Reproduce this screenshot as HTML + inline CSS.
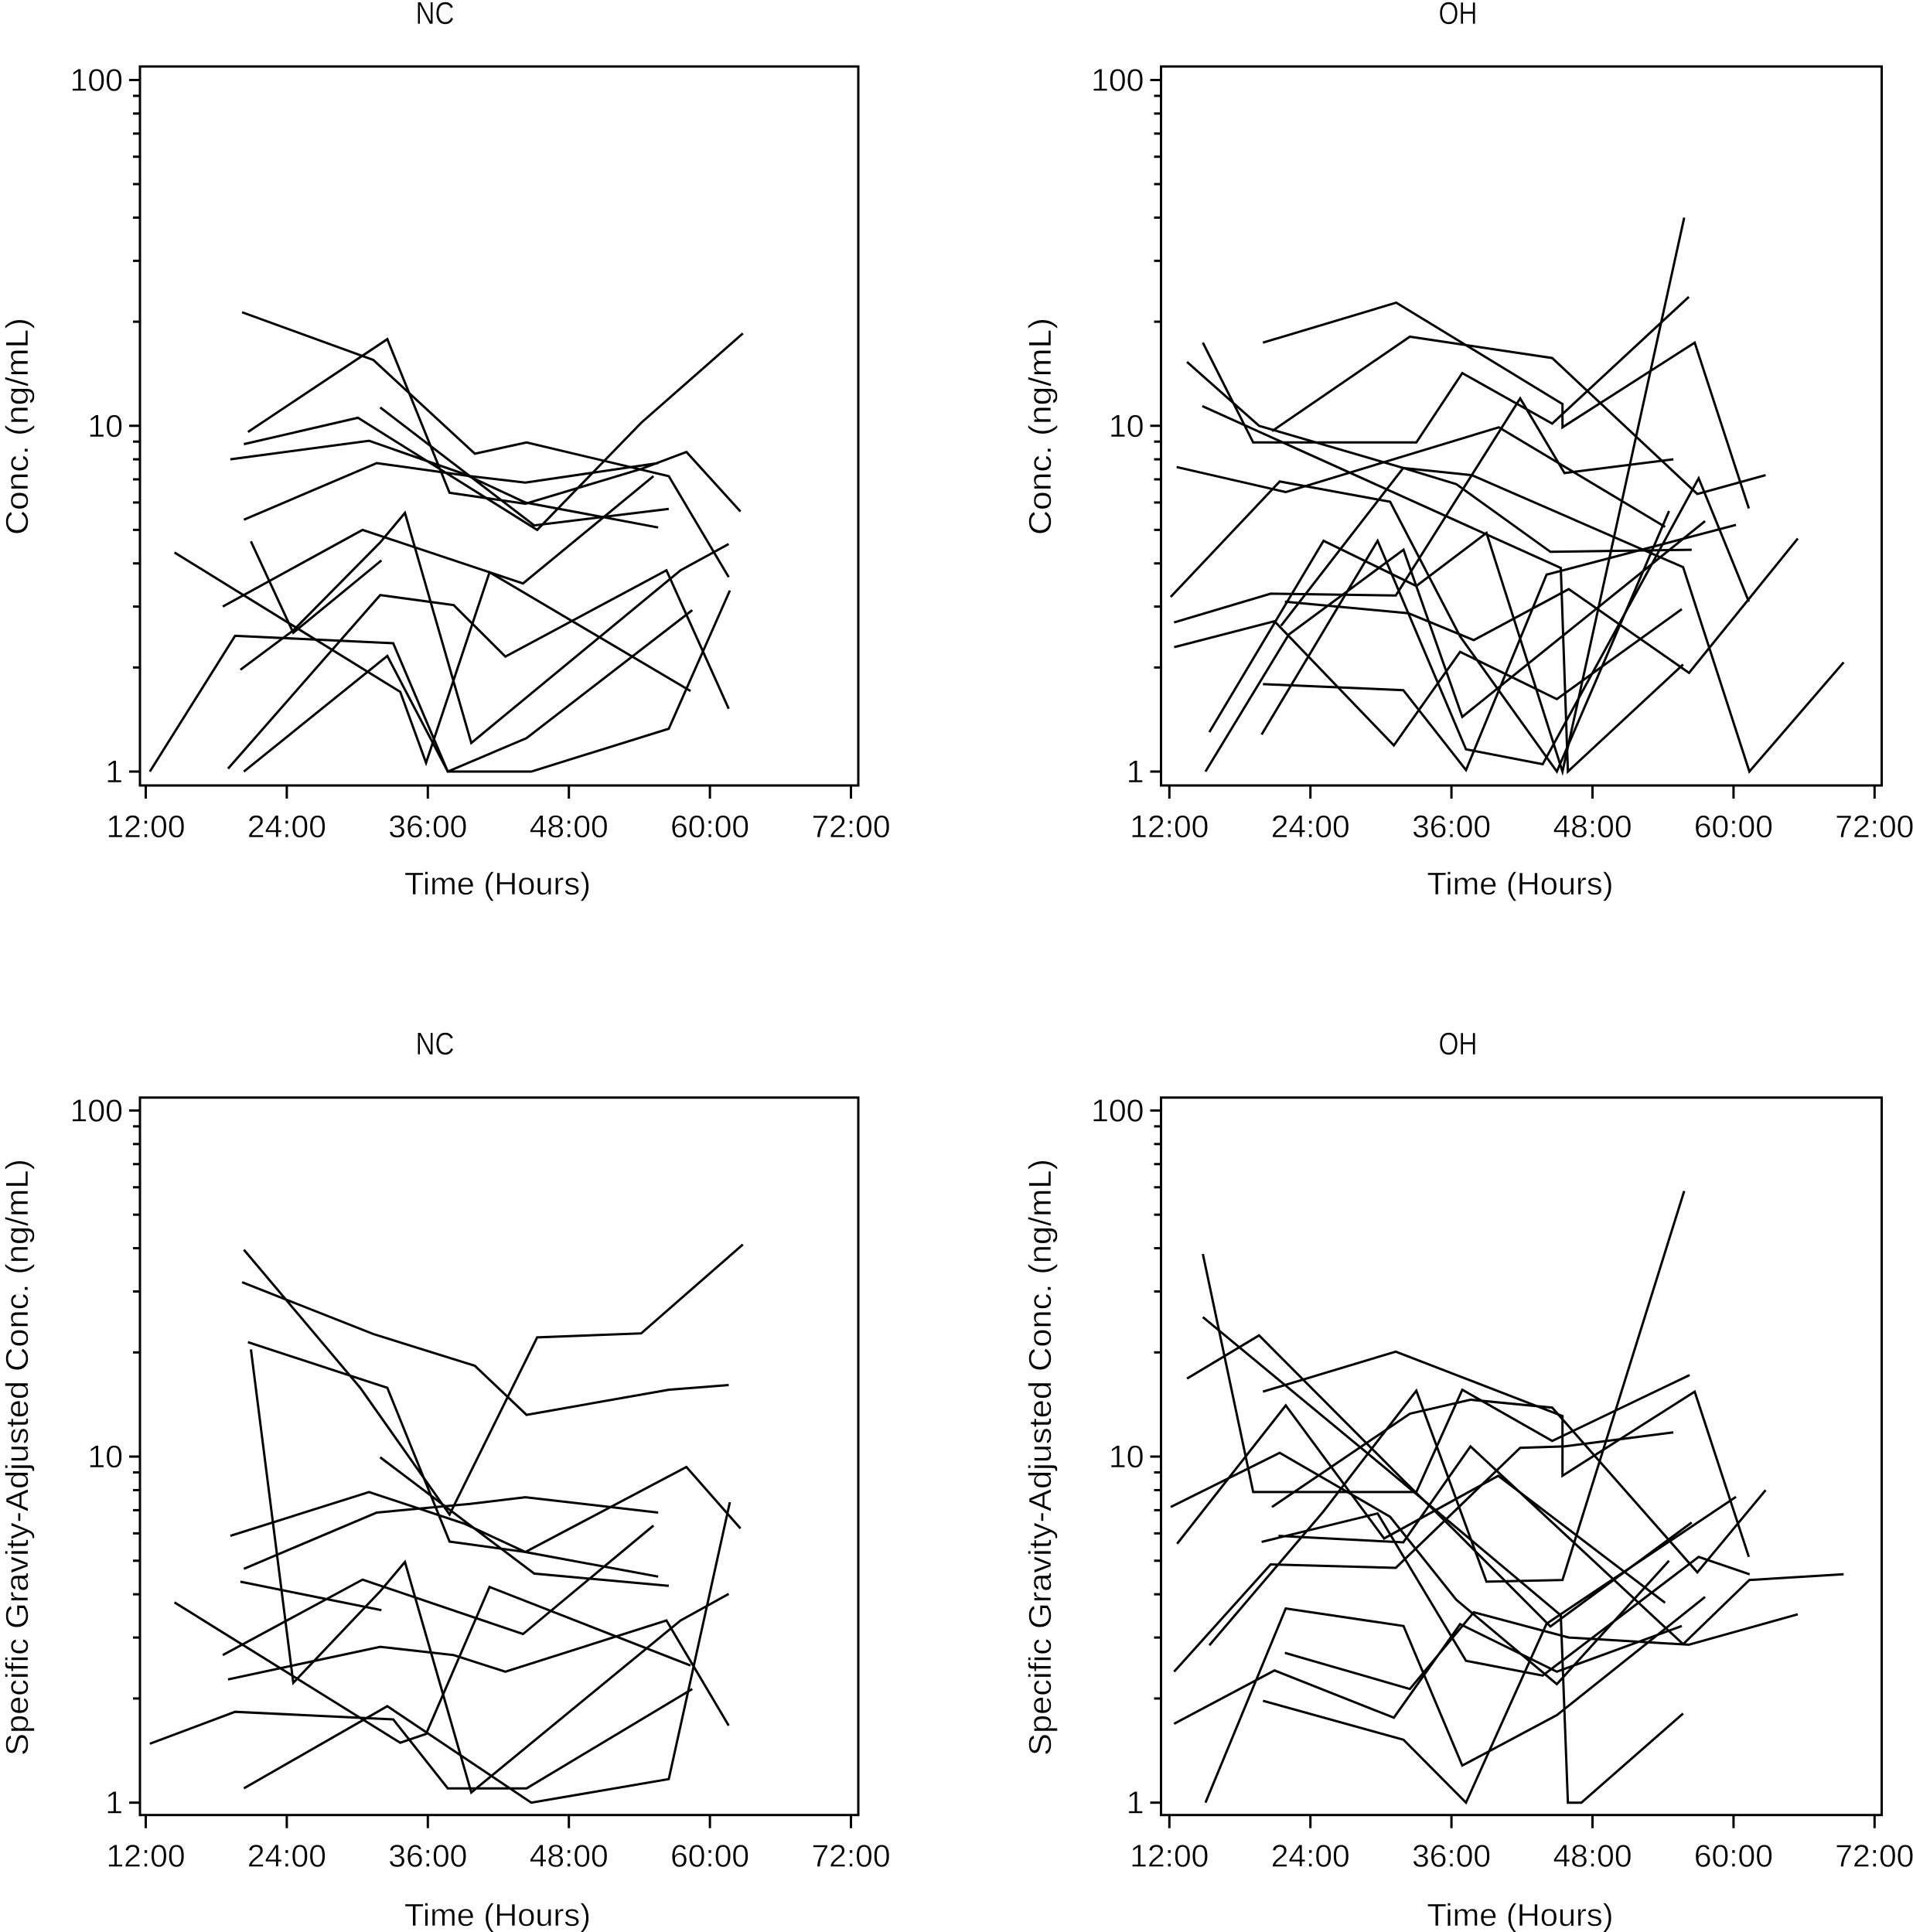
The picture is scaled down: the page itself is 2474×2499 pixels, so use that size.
<!DOCTYPE html>
<html lang="en">
<head>
<meta charset="utf-8">
<title>Concentration over time</title>
<style>
html,body{margin:0;padding:0;background:#fff;}
svg{display:block;}
text{font-family:"Liberation Sans",sans-serif;font-size:41px;fill:#000;stroke:#fff;stroke-width:0.5px;}
.frame{fill:none;stroke:#000;stroke-width:3;}
.tick{stroke:#000;stroke-width:3;fill:none;}
.subject{fill:none;stroke:#000;stroke-width:3;stroke-linejoin:miter;stroke-miterlimit:10;stroke-linecap:butt;}
</style>
</head>
<body>
<svg id="figure" xmlns="http://www.w3.org/2000/svg" width="2474" height="2499" viewBox="0 0 2474 2499">
  <rect x="0" y="0" width="2474" height="2499" fill="#fff"/>

  <g id="panel-nc-raw">
    <text x="562.5" y="31" text-anchor="middle" textLength="50" lengthAdjust="spacingAndGlyphs">NC</text>
    <text x="643.5" y="1157" text-anchor="middle" textLength="241" lengthAdjust="spacingAndGlyphs">Time (Hours)</text>
    <text transform="translate(36 551.5) rotate(-90)" text-anchor="middle" textLength="281" lengthAdjust="spacingAndGlyphs">Conc. (ng/mL)</text>
  </g>

  <g id="panel-oh-raw">
    <text x="1885.5" y="31" text-anchor="middle" textLength="50" lengthAdjust="spacingAndGlyphs">OH</text>
    <text x="1966" y="1157" text-anchor="middle" textLength="241" lengthAdjust="spacingAndGlyphs">Time (Hours)</text>
    <text transform="translate(1359 551.5) rotate(-90)" text-anchor="middle" textLength="281" lengthAdjust="spacingAndGlyphs">Conc. (ng/mL)</text>
  </g>

  <g id="panel-nc-adj">
    <text x="562.5" y="1364" text-anchor="middle" textLength="50" lengthAdjust="spacingAndGlyphs">NC</text>
    <text x="643.5" y="2491" text-anchor="middle" textLength="241" lengthAdjust="spacingAndGlyphs">Time (Hours)</text>
    <text transform="translate(36 1885) rotate(-90)" text-anchor="middle" textLength="772" lengthAdjust="spacingAndGlyphs">Specific Gravity-Adjusted Conc. (ng/mL)</text>
  </g>

  <g id="panel-oh-adj">
    <text x="1885.5" y="1364" text-anchor="middle" textLength="50" lengthAdjust="spacingAndGlyphs">OH</text>
    <text x="1966" y="2491" text-anchor="middle" textLength="241" lengthAdjust="spacingAndGlyphs">Time (Hours)</text>
    <text transform="translate(1359 1885) rotate(-90)" text-anchor="middle" textLength="772" lengthAdjust="spacingAndGlyphs">Specific Gravity-Adjusted Conc. (ng/mL)</text>
  </g>
</svg>

<script>
const xTickHours = [12, 24, 36, 48, 60, 72];
const xTickLabels = ["12:00", "24:00", "36:00", "48:00", "60:00", "72:00"];
const yMajorTicks = [1, 10, 100];
const yMajorLabels = ["1", "10", "100"];
const yMinorTicks = [2, 3, 4, 5, 6, 7, 8, 9, 20, 30, 40, 50, 60, 70, 80, 90];

const ncRawHours = [
  [20.2, 31.36, 40, 44.4, 56.5, 61.6],
  [20.7, 32.55, 37.85, 44.3, 54.15, 58, 62.6],
  [20.35, 30.05, 45.3, 54.15, 62.8],
  [19.2, 31, 39.1, 44.3, 55.6],
  [20.35, 31.65, 39.6, 44.3, 55.6],
  [31.95, 45.05, 56.5],
  [18.55, 30.45, 44.1, 55.2],
  [14.45, 33.65, 35.85, 41.25, 58.35],
  [20.95, 24.55, 32.05],
  [20.05, 24.55, 31.95, 34.05, 39.7, 57.5, 61.6],
  [19, 31.95, 38.2, 42.6, 56.3, 61.6],
  [20.35, 32.55, 37.7, 44.4, 58.5],
  [12.35, 19.6, 33.05, 37.7, 44.8, 56.5, 61.7]
];
const ncRawConc = [
  [21.3, 15.5, 8.3, 8.95, 7.15, 3.65],
  [9.6, 17.8, 6.4, 5.95, 7.5, 8.4, 5.65],
  [8.85, 10.55, 5, 10.2, 18.5],
  [8, 9.05, 7.25, 6, 5.08],
  [5.35, 7.8, 7.15, 6.85, 7.8],
  [11.3, 5.15, 5.75],
  [3, 5, 3.5, 7.15],
  [4.3, 1.7, 1.06, 3.77, 1.71],
  [4.63, 2.52, 4.08],
  [1.97, 2.56, 4.6, 5.6, 1.21, 3.82, 4.55],
  [1.02, 3.24, 3.03, 2.15, 3.82, 1.52],
  [1, 2.16, 1, 1.25, 2.93],
  [1, 2.47, 2.35, 1, 1, 1.33, 3.34]
];

const ohRawHours = [
  [19.96, 31.3, 45.45, 45.45, 56.7, 61.3],
  [20.73, 32.46, 44.57, 56.92, 62.73],
  [21.5, 31.9, 37.73, 55.71, 61.35, 69.37],
  [13.5, 19.63, 31.9, 36.41, 44.42, 56.44],
  [14.8, 30.49, 45.3, 45.91, 55.71],
  [14.85, 19.13, 33.01, 36.92, 44.57, 56.2],
  [12.62, 21.9, 40.03, 54.18],
  [12.11, 21.39, 30.78, 36.74, 44.97, 54.51],
  [12.4, 20.62, 31.26, 41.85, 45.62, 54.88],
  [12.4, 20.95, 31.1, 36.74, 44.97, 55.6],
  [15.4, 25.12, 33.01, 38.98, 45.45, 55.8],
  [19.85, 29.72, 37.24, 43.76, 57.03, 61.3],
  [21.83, 32.35, 37.9, 45.98, 56.22, 65.47],
  [19.96, 31.9, 37.24, 44.09, 60.21],
  [15.07, 22.16, 31.92, 36.92, 57.58]
];
const ohRawConc = [
  [17.4, 22.7, 11.56, 9.9, 17.4, 5.77],
  [9.65, 18.1, 15.7, 6.35, 7.2],
  [2.64, 7.55, 7.2, 3.9, 1, 2.07],
  [15.3, 10, 7.55, 6.78, 4.32, 4.38],
  [11.4, 6.55, 3.88, 1, 2.04],
  [17.4, 8.95, 8.95, 14.2, 10.15, 23.6],
  [7.6, 6.43, 9.9, 5.1],
  [3.2, 6.9, 6.03, 2.46, 1, 5.67],
  [2.7, 3.27, 3.23, 12, 7.3, 8],
  [2.29, 2.72, 1.19, 2.22, 1.62, 2.95],
  [1.3, 4.65, 3.44, 4.9, 1, 40],
  [1.28, 4.65, 1.16, 1.05, 7.05, 3.1],
  [3.1, 2.87, 2.4, 3.37, 1.93, 4.72],
  [1.79, 1.72, 1.01, 3.71, 5.17],
  [1, 2.49, 4.38, 1.44, 5.3]
];

const ncAdjHours = [
  [20.2, 31.36, 40, 44.4, 56.5, 61.6],
  [20.35, 30.25, 37.85, 45.3, 54.15, 62.8],
  [20.7, 32.55, 37.85, 44.3, 58, 62.6],
  [20.95, 24.55, 31.95, 34.05, 39.7, 57.5, 61.6],
  [20.05, 32.05],
  [19.2, 31, 39.1, 44.3, 55.6],
  [20.35, 31.65, 39.6, 44.3, 55.6],
  [31.95, 45.05, 56.5],
  [18.55, 30.45, 44.1, 55.2],
  [14.45, 33.65, 35.85, 41.25, 58.35],
  [19, 31.95, 38.2, 42.6, 56.3, 61.6],
  [20.35, 32.55, 44.8, 56.5, 61.7],
  [12.35, 19.6, 33.05, 37.7, 44.4, 58.5]
];
const ncAdjConc = [
  [31.9, 22.6, 18.3, 13.2, 15.6, 16.1],
  [39.6, 15.8, 6.8, 22.1, 22.7, 41],
  [21.4, 15.8, 5.68, 5.3, 9.33, 6.2],
  [20.4, 2.22, 4.08, 4.96, 1.07, 3.36, 4.01],
  [4.35, 3.6],
  [5.9, 7.9, 6.4, 5.3, 4.5],
  [4.74, 6.89, 7.3, 7.63, 6.89],
  [9.95, 4.59, 4.23],
  [2.67, 4.41, 3.07, 6.32],
  [3.79, 1.49, 1.58, 4.2, 2.49],
  [2.27, 2.82, 2.67, 2.39, 3.36, 1.67],
  [1.1, 1.9, 1, 1.17, 7.38],
  [1.48, 1.83, 1.74, 1.1, 1.1, 2.13]
];

const ohAdjHours = [
  [19.96, 31.26, 45.45, 45.45, 56.7, 61.3],
  [20.73, 32.46, 37.62, 44.57, 56.92, 62.73],
  [21.28, 31.9, 37.62, 55.71, 61.35, 69.37],
  [13.5, 19.63, 31.9, 36.41, 44.42, 56.44],
  [14.85, 30.49, 45.3, 45.91, 47.05, 55.71],
  [14.85, 19.13, 33.01, 36.92, 44.57, 56.26],
  [12.66, 21.9, 30.27, 39.98, 54.18],
  [12.11, 21.39, 30.78, 36.4, 44.97, 54.51],
  [12.4, 20.62, 31.26, 41.85, 45.62, 54.88],
  [12.4, 20.95, 31.1, 36.74, 44.97, 55.6],
  [15.4, 25.12, 33.01, 38.98, 45.45, 55.8],
  [19.85, 29.72, 37.24, 43.76, 57.03, 61.37],
  [21.83, 32.46, 37.9, 45.98, 56.2, 65.47],
  [19.96, 31.92, 37.24, 44.09, 60.21],
  [15.07, 21.9, 31.92, 36.92, 44.97, 57.58]
];
const ohAdjConc = [
  [15.4, 20.1, 13.1, 8.8, 15.4, 5.13],
  [7.15, 13.3, 14.6, 13.85, 4.63, 8],
  [5.9, 5.65, 10.7, 2.87, 4.4, 4.57],
  [16.8, 22.4, 8.55, 6.05, 3.23, 6.45],
  [25.3, 9.2, 3.48, 1, 1, 1.81],
  [38.5, 7.9, 7.9, 15.6, 11.1, 17.2],
  [5.6, 14.05, 5.8, 8.8, 3.78],
  [7.15, 10.25, 6.7, 3.86, 2.2, 5],
  [2.39, 4.88, 4.77, 10.6, 10.7, 11.75],
  [1.69, 2.41, 1.76, 3.28, 2.39, 3.24],
  [2.85, 6.95, 15.5, 4.35, 4.4, 58.5],
  [5.67, 6.85, 2.57, 2.33, 5.13, 4.57],
  [2.71, 2.13, 3.55, 3, 2.86, 3.5],
  [1.97, 1.52, 1, 3.29, 7.65],
  [1, 3.64, 3.24, 1.28, 1.79, 3.93]
];

const NS = "http://www.w3.org/2000/svg";

function svgEl(tag, parent) {
  const el = document.createElementNS(NS, tag);
  parent.appendChild(el);
  return el;
}

function drawPanel(groupId, box, hours, conc) {
  const group = document.getElementById(groupId);
  const hourPx = 15.2;
  const decadePx = (box.y1 - box.y100) / 2;
  const xScale = h => box.x12 + (h - 12) * hourPx;
  const yScale = v => box.y1 - Math.log10(v) * decadePx;

  const frame = svgEl("rect", group);
  
  
  frame.setAttribute("class", "frame");
  frame.setAttribute("x", box.left);
  frame.setAttribute("y", box.top);
  frame.setAttribute("width", box.right - box.left);
  frame.setAttribute("height", box.bottom - box.top);

  xTickHours.forEach((h, i) => {
    const tick = svgEl("line", group);
    
    
    tick.setAttribute("class", "tick");
    tick.setAttribute("x1", xScale(h));
    tick.setAttribute("x2", xScale(h));
    tick.setAttribute("y1", box.bottom);
    tick.setAttribute("y2", box.bottom + 17);
    const label = svgEl("text", group);
    
    
    label.setAttribute("x", xScale(h));
    label.setAttribute("y", box.bottom + 67);
    label.setAttribute("text-anchor", "middle");
    label.setAttribute("textLength", "102");
    label.setAttribute("lengthAdjust", "spacingAndGlyphs");
    label.textContent = xTickLabels[i];
  });

  yMajorTicks.forEach((v, i) => {
    const tick = svgEl("line", group);
    
    
    tick.setAttribute("class", "tick");
    tick.setAttribute("x1", box.left - 14);
    tick.setAttribute("x2", box.left);
    tick.setAttribute("y1", yScale(v));
    tick.setAttribute("y2", yScale(v));
    const label = svgEl("text", group);
    
    
    label.setAttribute("x", box.left - 22);
    label.setAttribute("y", yScale(v) + 14);
    label.setAttribute("text-anchor", "end");
    label.textContent = yMajorLabels[i];
  });

  yMinorTicks.forEach(v => {
    const tick = svgEl("line", group);
    
    
    tick.setAttribute("class", "tick");
    tick.setAttribute("x1", box.left - 9);
    tick.setAttribute("x2", box.left);
    tick.setAttribute("y1", yScale(v));
    tick.setAttribute("y2", yScale(v));
  });

  hours.forEach((series, s) => {
    const d = series.map((h, i) => (i ? "L" : "M") + xScale(h).toFixed(1) + " " + yScale(conc[s][i]).toFixed(1)).join(" ");
    const line = svgEl("path", group);
    
    
    line.setAttribute("class", "subject");
    line.setAttribute("d", d);
  });
}

drawPanel("panel-nc-raw", {left: 181, right: 1110, top: 86, bottom: 1016, x12: 188.5, y100: 103.5, y1: 998}, ncRawHours, ncRawConc);
drawPanel("panel-oh-raw", {left: 1501.5, right: 2433.5, top: 86, bottom: 1016, x12: 1512.3, y100: 103.5, y1: 998}, ohRawHours, ohRawConc);
drawPanel("panel-nc-adj", {left: 181, right: 1110, top: 1419.7, bottom: 2347.7, x12: 188.5, y100: 1436.4, y1: 2331.7}, ncAdjHours, ncAdjConc);
drawPanel("panel-oh-adj", {left: 1501.5, right: 2433.5, top: 1419.7, bottom: 2347.7, x12: 1512.3, y100: 1436.4, y1: 2331.7}, ohAdjHours, ohAdjConc);
</script>
</body>
</html>
